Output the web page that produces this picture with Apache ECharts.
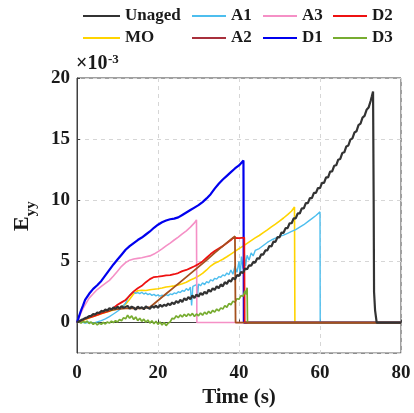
<!DOCTYPE html>
<html>
<head>
<meta charset="utf-8">
<script src="https://cdn.jsdelivr.net/npm/echarts@6/dist/echarts.min.js"></script>
<style>
  html, body { margin: 0; padding: 0; background: #fff; }
  #chart { width: 414px; height: 413px; }
</style>
</head>
<body>
<div id="chart"></div>
<script>
// Strain E_yy (x10^-3) against time (s) for each ageing condition
const unaged = [[0,0],[0.5,0.1],[1,0.2],[1.5,0.27],[2,0.36],[2.5,0.41],[3,0.52],[3.5,0.55],[4,0.7],[4.5,0.66],[5,0.82],[5.5,0.78],[6,0.95],[6.5,0.9],[7,1.06],[7.5,0.98],[8,1.18],[8.5,1.05],[9,1.24],[9.5,1.12],[10,1.3],[10.5,1.15],[11,1.34],[11.5,1.2],[12,1.28],[12.5,1.36],[13,1.14],[13.5,1.3],[14,1.22],[14.5,1.05],[15,1.3],[15.5,1.16],[16,1.26],[16.5,1.08],[17,1.32],[17.5,1.2],[18,1.12],[18.5,1.35],[19,1.22],[19.5,1.38],[20,1.2],[20.5,1.44],[21,1.3],[21.5,1.46],[22,1.36],[22.5,1.55],[23,1.42],[23.5,1.64],[24,1.5],[24.5,1.76],[25,1.6],[25.5,1.86],[26,1.68],[26.5,1.98],[27,1.82],[27.5,2.08],[28,1.9],[28.5,2.22],[29,2.0],[29.5,2.3],[30,2.12],[30.5,2.42],[31,2.26],[31.5,2.52],[32,2.36],[32.5,2.68],[33,2.52],[33.5,2.8],[34,2.66],[34.5,2.96],[35,2.8],[35.5,3.12],[36,2.96],[36.5,3.3],[37,3.16],[37.5,3.46],[38,3.34],[38.5,3.66],[39,3.52],[39.5,3.88],[40,3.8],[40.5,4.14],[41,4.06],[41.5,4.42],[42,4.36],[42.5,4.68],[43,4.64],[43.5,4.96],[44,4.9],[44.5,5.26],[45,5.22],[45.5,5.58],[46,5.56],[46.5,5.9],[47,5.9],[47.5,6.26],[48,6.22],[48.5,6.62],[49,6.6],[49.5,6.98],[50,6.96],[50.5,7.36],[51,7.34],[51.5,7.72],[52,7.72],[52.5,8.12],[53,8.12],[53.5,8.52],[54,8.52],[54.5,8.92],[55,8.92],[55.5,9.34],[56,9.34],[56.5,9.76],[57,9.76],[57.5,10.18],[58,10.18],[58.5,10.6],[59,10.6],[59.5,11.0],[60,11.0],[60.5,11.42],[61,11.42],[61.5,11.88],[62,11.88],[62.5,12.34],[63,12.36],[63.5,12.82],[64,12.86],[64.5,13.32],[65,13.38],[65.5,13.86],[66,13.92],[66.5,14.4],[67,14.48],[67.5,14.96],[68,15.06],[68.5,15.54],[69,15.64],[69.5,16.14],[70,16.26],[70.5,16.76],[71,16.9],[71.5,17.4],[72,17.58],[72.5,18.12],[72.8,18.5],[73.1,18.9],[73.25,10.0],[73.35,2.5],[73.6,1.0],[74,0],[80,0]];

const mo = [[0,0],[1,0.12],[2,0.25],[3,0.38],[4,0.5],[5,0.6],[6,0.72],[7,0.82],[8,0.92],[9,1.02],[10,1.12],[11,1.28],[12,1.5],[13,1.9],[14,2.35],[15,2.6],[16,2.64],[17,2.62],[18,2.68],[19,2.72],[20,2.76],[21,2.82],[22,2.9],[23,2.95],[24,3.0],[25,3.08],[26,3.17],[27,3.3],[28,3.48],[29,3.62],[30,3.8],[31,4.02],[32,4.3],[33,4.62],[34,4.85],[35,5.0],[36,5.18],[37,5.38],[38,5.6],[39,5.82],[40,6.05],[41,6.25],[42,6.48],[43,6.7],[44,6.92],[45,7.12],[46,7.35],[47,7.58],[48,7.82],[49,8.05],[50,8.3],[51,8.55],[52,8.82],[53,9.12],[53.7,9.45],[53.8,0],[80,0]];

const a1 = [[0,0],[1,0.05],[2,-0.05],[3,0.02],[4,-0.05],[5,0.05],[6,0.15],[7,0.3],[8,0.48],[9,0.7],[10,0.92],[11,1.2],[12,1.6],[12.5,1.95],[13,2.25],[13.5,2.4],[14,2.5],[14.5,2.38],[15,2.45],[15.5,2.36],[16,2.48],[16.5,2.33],[17,2.42],[17.5,2.28],[18,2.36],[18.5,2.22],[19,2.3],[19.5,2.18],[20,2.26],[20.5,2.15],[21,2.24],[21.5,2.18],[22,2.28],[22.5,2.2],[23,2.34],[23.5,2.28],[24,2.42],[24.5,2.36],[25,2.52],[25.5,2.45],[26,2.62],[26.5,2.55],[27,2.78],[27.5,2.62],[28,2.9],[28.3,1.4],[28.6,2.95],[29,2.8],[29.5,3.1],[29.8,2.3],[30,3.15],[30.5,3.0],[31,3.25],[31.5,3.1],[32,3.35],[32.5,3.25],[33,3.5],[33.5,3.4],[34,3.62],[34.5,3.55],[35,3.75],[35.5,3.7],[36,3.9],[36.5,3.82],[37,4.05],[37.5,3.9],[38,4.3],[38.5,3.95],[39,4.6],[39.5,4.1],[40,5.0],[40.3,3.8],[40.6,5.4],[41,4.4],[41.3,5.7],[41.6,4.6],[42,5.5],[42.5,5.1],[43,5.7],[43.5,5.45],[44,5.9],[45,6.05],[46,6.3],[47,6.55],[48,6.75],[49,6.9],[50,7.05],[51,7.15],[52,7.3],[53,7.45],[54,7.6],[55,7.8],[56,8.0],[57,8.25],[58,8.5],[59,8.75],[60,9.05],[60.05,0],[80,0]];

const a2 = [[0,0],[2,0.3],[4,0.6],[6,0.85],[8,1.0],[10,1.1],[12,1.15],[14,1.15],[16,1.15],[18,1.25],[20,1.8],[22,2.35],[24,2.9],[26,3.45],[28,4.0],[30,4.55],[32,5.1],[34,5.7],[36,6.25],[38,6.8],[39,7.05],[39.15,0],[80,0]];

const a3 = [[0,0],[0.5,0.4],[1,0.8],[1.5,1.15],[2,1.45],[3,2.0],[4,2.35],[5,2.7],[6,2.95],[7,3.2],[8,3.45],[9,3.8],[10,4.2],[11,4.6],[12,4.9],[13,5.1],[14,5.2],[15,5.25],[16,5.3],[17,5.38],[18,5.45],[19,5.6],[20,5.8],[21,6.02],[22,6.27],[23,6.5],[24,6.75],[25,6.98],[26,7.25],[27,7.5],[28,7.8],[29,8.15],[29.5,8.4],[29.6,0],[80,0]];

const d1 = [[0,0],[0.5,0.5],[1,1.0],[1.5,1.4],[2,1.85],[3,2.35],[4,2.75],[5,3.05],[6,3.4],[7,3.85],[8,4.3],[9,4.75],[10,5.15],[11,5.55],[12,5.95],[13,6.25],[14,6.5],[15,6.75],[16,6.95],[17,7.2],[18,7.45],[19,7.75],[20,8.0],[21,8.2],[22,8.35],[23,8.45],[24,8.5],[25,8.6],[26,8.8],[27,9.0],[28,9.2],[29,9.4],[30,9.6],[31,9.85],[32,10.15],[33,10.5],[34,10.95],[35,11.35],[36,11.7],[37,12.0],[38,12.3],[39,12.6],[40,12.85],[41.1,13.25],[41.2,0],[80,0]];

const d2 = [[0,0],[1,0.15],[2,0.3],[3,0.4],[4,0.5],[5,0.62],[6,0.75],[7,0.85],[8,0.95],[9,1.2],[10,1.45],[11,1.65],[12,1.85],[13,2.2],[14,2.55],[15,2.8],[16,3.0],[17,3.3],[18,3.55],[19,3.72],[20,3.75],[21,3.8],[22,3.85],[23,3.88],[24,3.95],[25,4.05],[26,4.2],[27,4.3],[28,4.45],[29,4.6],[30,4.78],[31,5.0],[32,5.3],[33,5.6],[34,5.85],[35,6.05],[36,6.25],[37,6.5],[38,6.75],[38.5,6.9],[39,6.92],[40,6.9],[41.3,6.95],[41.4,0],[80,0]];

const d3 = [[0,0],[0.5,0.05],[1,-0.05],[1.5,0.1],[2,0.0],[2.5,0.12],[3,-0.08],[3.5,0.05],[4,-0.15],[4.5,-0.02],[5,-0.2],[5.5,-0.05],[6,-0.15],[6.5,0.02],[7,-0.12],[7.5,0.05],[8,-0.05],[8.5,0.12],[9,0.0],[9.5,0.15],[10,0.05],[10.5,0.25],[11,0.15],[11.5,0.4],[12,0.3],[12.5,0.6],[13,0.35],[13.5,0.55],[14,0.25],[14.5,0.45],[15,0.15],[15.5,0.35],[16,0.1],[16.5,0.28],[17,0.02],[17.5,0.2],[18,-0.05],[18.5,0.15],[19,-0.1],[19.5,0.1],[20,-0.15],[20.5,0.05],[21,-0.2],[21.5,0.0],[22,-0.25],[22.5,-0.05],[23,0.05],[23.5,0.35],[24,0.3],[24.5,0.55],[25,0.4],[25.5,0.62],[26,0.45],[26.5,0.68],[27,0.5],[27.5,0.72],[28,0.55],[28.5,0.75],[29,0.5],[29.5,0.7],[30,0.55],[30.5,0.78],[31,0.6],[31.5,0.85],[32,0.68],[32.5,0.92],[33,0.75],[33.5,1.0],[34,0.85],[34.5,1.1],[35,0.95],[35.5,1.2],[36,1.1],[36.5,1.38],[37,1.25],[37.5,1.55],[38,1.45],[38.5,1.75],[39,1.65],[39.5,1.95],[40,1.9],[40.5,2.2],[41,2.15],[41.5,2.6],[41.8,2.3],[42,2.85],[42.1,0],[80,0]];

const FONT = 'Liberation Serif, Times New Roman, serif';
const TEXT = '#1a1a1a';

// draw order: later entries sit on top
const seriesDefs = [
  { name: 'MO',     data: mo,     color: '#FFD400', width: 1.6 },
  { name: 'A1',     data: a1,     color: '#4DBEEE', width: 1.4 },
  { name: 'A3',     data: a3,     color: '#F590C6', width: 1.6 },
  { name: 'D1',     data: d1,     color: '#0000EE', width: 2.2 },
  { name: 'D2',     data: d2,     color: '#EE1111', width: 1.8 },
  { name: 'D3',     data: d3,     color: '#77AC30', width: 1.7 },
  { name: 'A2',     data: a2,     color: '#A5501E', width: 1.8 },
  { name: 'Unaged', data: unaged, color: '#333333', width: 2.2 }
];

const legendText = { fontFamily: FONT, fontWeight: 'bold', fontSize: 17, color: TEXT, lineHeight: 20 };
function legendCol(left, names, w) {
  return {
    orient: 'vertical', left: left, top: 6, padding: 0,
    icon: 'rect', itemWidth: w, itemHeight: 2, itemGap: 2,
    textStyle: legendText, data: names, selectedMode: false
  };
}

const chart = echarts.init(document.getElementById('chart'), null, { renderer: 'canvas' });
chart.setOption({
  animation: false,
  backgroundColor: '#fff',
  title: [
    { text: '×10', left: 76, top: 54, padding: 0, textStyle: { fontFamily: FONT, fontWeight: 'bold', fontSize: 20, color: TEXT } },
    { text: '-3', left: 108, top: 53, padding: 0, textStyle: { fontFamily: FONT, fontWeight: 'bold', fontSize: 13, color: TEXT } }
  ],
  legend: [
    legendCol(83, ['Unaged', 'MO'], 37),
    legendCol(192, ['A1', { name: 'A2', itemStyle: { color: '#A8303C' } }], 34),
    legendCol(263, ['A3', 'D1'], 34),
    legendCol(333, ['D2', 'D3'], 34)
  ],
  grid: {
    left: 77, right: 13, top: 78, bottom: 58,
    show: true, borderColor: '#404040', borderWidth: 1, backgroundColor: '#fff'
  },
  xAxis: {
    type: 'value', min: 0, max: 80, interval: 20,
    name: 'Time (s)', nameLocation: 'middle', nameGap: 33,
    nameTextStyle: { fontFamily: FONT, fontWeight: 'bold', fontSize: 21, color: TEXT },
    axisLine: { lineStyle: { color: '#404040', width: 1 } },
    axisTick: { show: true, inside: true, length: 3, lineStyle: { color: '#404040' } },
    axisLabel: { fontFamily: FONT, fontWeight: 'bold', fontSize: 19, color: TEXT, margin: 10 },
    splitLine: { show: true, lineStyle: { color: '#d6d6d6', type: [4, 4], width: 1 } }
  },
  yAxis: {
    type: 'value', min: -2.5, max: 20, splitNumber: 5,
    name: '{e|E}{s|yy}{p| }', nameLocation: 'middle', nameGap: 38,
    nameTextStyle: {
      rich: {
        e: { fontFamily: FONT, fontWeight: 'bold', fontSize: 22, color: TEXT, lineHeight: 22, verticalAlign: 'top' },
        s: { fontFamily: FONT, fontWeight: 'bold', fontSize: 15, color: TEXT, lineHeight: 15, verticalAlign: 'bottom' },
        p: { fontSize: 4, lineHeight: 28 }
      }
    },
    axisLine: { lineStyle: { color: '#404040', width: 1 } },
    axisTick: { show: true, inside: true, length: 3, lineStyle: { color: '#404040' } },
    axisLabel: {
      fontFamily: FONT, fontWeight: 'bold', fontSize: 19, color: TEXT, margin: 7,
      showMinLabel: false,
      formatter: v => (v % 5 === 0 ? String(v) : '')
    },
    splitLine: { show: true, lineStyle: { color: '#d6d6d6', type: [4, 4], width: 1 } }
  },
  series: seriesDefs.map(d => ({
    name: d.name, type: 'line', data: d.data,
    symbol: 'none', smooth: false,
    lineStyle: { color: d.color, width: d.width },
    itemStyle: { color: d.color },
    emphasis: { disabled: true }
  }))
});
</script>
</body>
</html>
